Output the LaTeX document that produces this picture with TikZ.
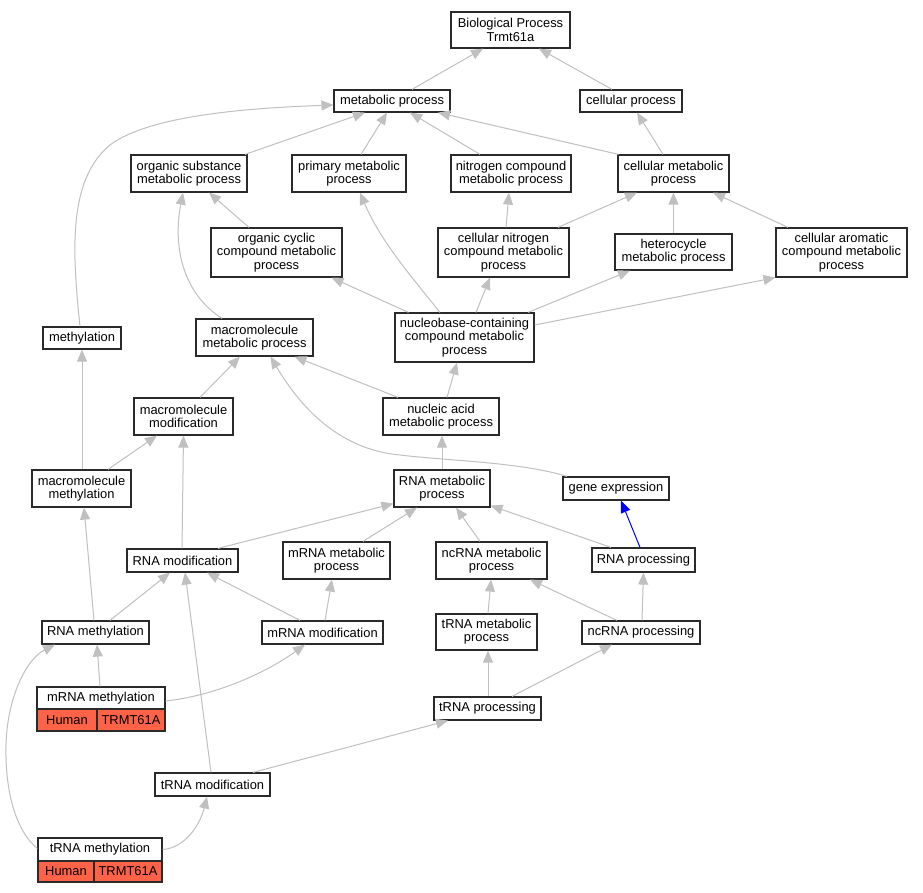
\documentclass[tikz,border=0pt]{standalone}
\usepackage{fontspec}
\setmainfont{Liberation Sans}
\usetikzlibrary{arrows.meta}
\definecolor{edgegray}{HTML}{C0C0C0}
\definecolor{cellred}{HTML}{FF6347}
\definecolor{boxline}{HTML}{2A2A2A}
\newcommand\gofs{\fontsize{12.9pt}{13.3pt}\selectfont}
\newcommand\gobox[7][]{\node[box,#1,minimum width={#4-#2},minimum height={#5-#3}] (#6) at ({(#2+#4)/2},{(#3+#5)/2}) {#7};}
\begin{document}
\begin{tikzpicture}[x=1pt,y=-1pt,
  box/.style={draw=boxline,line width=1.2pt,fill=white,inner sep=0pt,align=center,font=\gofs,text=black},
  cell/.style={box,fill=cellred},
  edge/.style={draw=edgegray,line width=1pt,-{Triangle[length=12pt,width=10pt]}},
  bedge/.style={draw=blue,line width=1pt,-{Triangle[length=12pt,width=10pt]}}]
\fill[white] (0,0) rectangle (923,893);
\useasboundingbox (0,0) rectangle (923,893);
% nodes
\gobox{451}{12}{570}{48}{bp}{Biological Process\\Trmt61a}
\gobox{334}{90}{450}{112}{met}{metabolic process}
\gobox{580}{90}{682}{112}{cp}{cellular process}
\gobox{131}{155}{247}{192}{os}{organic substance\\metabolic process}
\gobox{292}{155}{406}{192}{prim}{primary metabolic\\process}
\gobox{451}{155}{571}{192}{nc}{nitrogen compound\\metabolic process}
\gobox{618}{155}{729}{192}{cm}{cellular metabolic\\process}
\gobox{211}{228}{342}{277}{oc}{organic cyclic\\compound metabolic\\process}
\gobox{438}{228}{569}{277}{cn}{cellular nitrogen\\compound metabolic\\process}
\gobox{615}{234}{732}{270}{het}{heterocycle\\metabolic process}
\gobox{776}{228}{907}{277}{ca}{cellular aromatic\\compound metabolic\\process}
\gobox{43}{327}{121}{349}{methyl}{methylation}
\gobox{196}{319}{313}{356}{mm}{macromolecule\\metabolic process}
\gobox{395}{313}{534}{362}{nb}{nucleobase-containing\\compound metabolic\\process}
\gobox{134}{398}{233}{435}{mmod}{macromolecule\\modification}
\gobox{383}{398}{499}{435}{na}{nucleic acid\\metabolic process}
\gobox{32}{470}{131}{507}{mmeth}{macromolecule\\methylation}
\gobox{394}{470}{490}{507}{rm}{RNA metabolic\\process}
\gobox{563}{477}{669}{500}{ge}{gene expression}
\gobox{127}{549}{238}{572}{rmod}{RNA modification}
\gobox{283}{542}{390}{579}{mrm}{mRNA metabolic\\process}
\gobox{436}{542}{547}{579}{ncm}{ncRNA metabolic\\process}
\gobox{592}{548}{695}{572}{rp}{RNA processing}
\gobox{42}{621}{149}{644}{rmeth}{RNA methylation}
\gobox{262}{621}{383}{644}{mrmod}{mRNA modification}
\gobox{436}{614}{537}{650}{tm}{tRNA metabolic\\process}
\gobox{582}{621}{700}{644}{ncp}{ncRNA processing}
\gobox{37}{687}{165}{709}{mrmeth}{mRNA methylation}
\gobox[cell]{37}{709}{97}{731}{mrmethH}{Human}
\gobox[cell]{97}{709}{165}{731}{mrmethT}{TRMT61A}
\gobox{434}{697}{541}{720}{tp}{tRNA processing}
\gobox{155}{773}{270}{796}{trmod}{tRNA modification}
\gobox{38}{838}{162}{861}{trmeth}{tRNA methylation}
\gobox[cell]{38}{861}{94}{882}{trmethH}{Human}
\gobox[cell]{94}{861}{162}{882}{trmethT}{TRMT61A}
% edges
\draw[edge] ([xshift=20pt]met.north) -- ([xshift=-27.5pt]bp.south);
\draw[edge] ([xshift=-19pt]cp.north) -- ([xshift=28.5pt]bp.south);
\draw[edge] ([xshift=56pt]os.north) -- ([xshift=-27pt]met.south);
\draw[edge] ([xshift=12pt]prim.north) -- ([xshift=-5pt]met.south);
\draw[edge] ([xshift=-31pt]nc.north) -- ([xshift=18pt]met.south);
\draw[edge] ([xshift=-55pt]cm.north) -- ([xshift=46pt]met.south);
\draw[edge] ([xshift=-10.5pt]cm.north) -- ([xshift=6pt]cp.south);
\draw[edge] ([xshift=-2pt]methyl.north) .. controls (72,250) and (68,180) .. (110,145) .. controls (150,115) and (250,108) .. ([yshift=-4pt]met.west);
\draw[edge] ([xshift=-27.5pt]oc.north) -- ([xshift=20pt]os.south);
\draw[edge] ([xshift=-32.5pt]mm.north) .. controls (185,295) and (172,250) .. ([xshift=-6pt]os.south);
\draw[edge] ([xshift=-56pt]nb.north) -- ([xshift=55pt]oc.south);
\draw[edge] ([xshift=-24.5pt]nb.north) .. controls (410,275) and (380,240) .. ([xshift=11pt]prim.south);
\draw[edge] ([xshift=11.5pt]nb.north) -- ([xshift=-13.5pt]cn.south);
\draw[edge] ([xshift=63.5pt]nb.north) -- ([xshift=-43.5pt]het.south);
\draw[edge] ([yshift=12.5pt]nb.east) -- (ca.south west);
\draw[edge] ([xshift=2.5pt]cn.north) -- ([xshift=-2pt]nc.south);
\draw[edge] ([xshift=54.5pt]cn.north) -- ([xshift=-36.5pt]cm.south);
\draw[edge] (het.north) -- (cm.south);
\draw[edge] ([xshift=-53.5pt]ca.north) -- ([xshift=39.5pt]cm.south);
\draw[edge] ([xshift=0.5pt]mmeth.north) -- (methyl.south);
\draw[edge] ([xshift=16.5pt]mmod.north) -- ([xshift=-14.5pt]mm.south);
\draw[edge] ([xshift=-43pt]na.north) -- ([xshift=40pt]mm.south);
\draw[edge] ([xshift=-49pt]ge.north) .. controls (520,462) and (450,461) .. (400,455) .. controls (345,450) and (305,415) .. ([xshift=16pt]mm.south);
\draw[edge] ([xshift=6pt]na.north) -- ([xshift=-7.5pt]nb.south);
\draw[edge] (rm.north) -- ([xshift=1pt]na.south);
\draw[edge] ([xshift=26.5pt]mmeth.north) -- ([xshift=-26.5pt]mmod.south);
\draw[edge] ([xshift=-0.5pt]rmod.north) -- (mmod.south);
\draw[edge] ([xshift=35.5pt]rmod.north) -- ([yshift=4pt]rm.south west);
\draw[edge] ([xshift=26.5pt]mrm.north) -- ([xshift=-25pt]rm.south);
\draw[edge] ([xshift=-11.5pt]ncm.north) -- ([xshift=14pt]rm.south);
\draw[edge] ([xshift=-32.5pt]rp.north) -- ([yshift=2pt]rm.south east);
\draw[bedge] ([xshift=-3.5pt]rp.north) -- ([xshift=5pt]ge.south);
\draw[edge] ([xshift=-1.5pt]rmeth.north) -- ([xshift=2.5pt]mmeth.south);
\draw[edge] ([xshift=14.5pt]rmeth.north) -- ([xshift=-12.5pt]rmod.south);
\draw[edge] ([xshift=-22.5pt]mrmod.north) -- ([xshift=24.5pt]rmod.south);
\draw[edge] ([xshift=2.5pt]mrmod.north) -- ([xshift=-4.5pt]mrm.south);
\draw[edge] ([xshift=1.5pt]tm.north) -- ([xshift=-0.5pt]ncm.south);
\draw[edge] ([xshift=-24pt]ncp.north) -- ([xshift=38.5pt]ncm.south);
\draw[edge] ([xshift=1pt]ncp.north) -- (rp.south);
\draw[edge] ([xshift=-1pt]mrmeth.north) -- ([xshift=1.5pt]rmeth.south);
\draw[edge] ([yshift=-3pt]mrmeth.east) .. controls (220,695) and (270,670) .. ([xshift=-17.5pt]mrmod.south);
\draw[edge] ([xshift=0.5pt]tp.north) -- ([xshift=1.5pt]tm.south);
\draw[edge] ([xshift=24.5pt]tp.north) -- ([xshift=-29pt]ncp.south);
\draw[edge] ([xshift=40.5pt]trmod.north) -- ([xshift=-39.5pt]tp.south);
\draw[edge] ([xshift=-1.5pt]trmod.north) -- ([xshift=2.5pt]rmod.south);
\draw[edge] (trmeth.east) .. controls (185,848) and (200,825) .. ([xshift=-5.5pt]trmod.south);
\draw[edge] ([yshift=1pt]trmeth.west) .. controls (15,830) and (5,790) .. (6,745) .. controls (7,700) and (25,660) .. ([xshift=-40.5pt]rmeth.south);
\end{tikzpicture}
\end{document}
